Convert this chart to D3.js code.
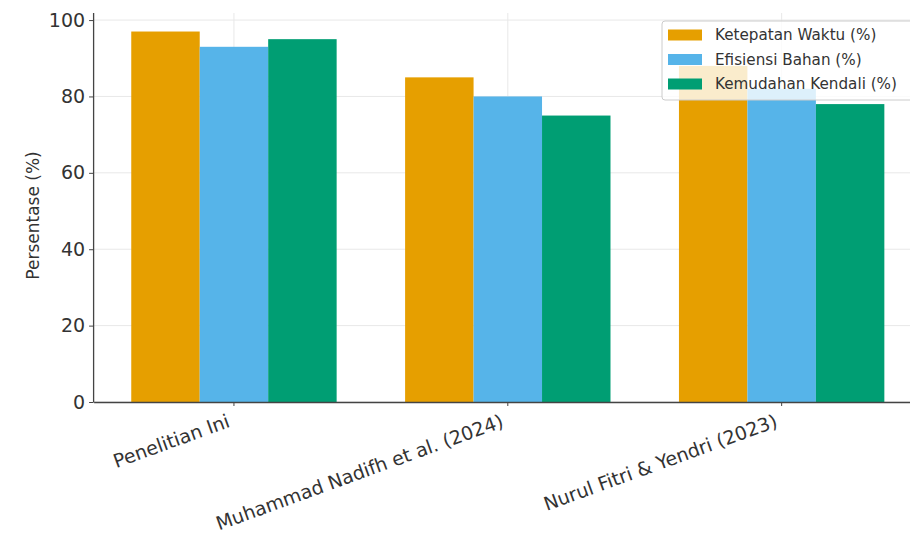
<!DOCTYPE html>
<html>
<head>
<meta charset="utf-8">
<script src="https://cdn.jsdelivr.net/npm/d3@7"></script>
<style>
  html, body { margin: 0; padding: 0; background: #fff; }
  svg { display: block; font-family: "DejaVu Sans", sans-serif; }
</style>
</head>
<body>
<svg id="chart" width="910" height="543"></svg>
<script>
// Studies compared
const categories = ["Penelitian Ini", "Muhammad Nadifh et al. (2024)", "Nurul Fitri & Yendri (2023)"];

// Series names and values (%)
const seriesNames = ["Ketepatan Waktu (%)", "Efisiensi Bahan (%)", "Kemudahan Kendali (%)"];
const ketepatanWaktu = [97, 85, 88];
const efisiensiBahan = [93, 80, 82];
const kemudahanKendali = [95, 75, 78];
const seriesValues = [ketepatanWaktu, efisiensiBahan, kemudahanKendali];

const seriesColors = ["#E69F00", "#56B4E9", "#009E73"];
const yTicks = [0, 20, 40, 60, 80, 100];
const yLabel = "Persentase (%)";

const svg = d3.select("#chart");

// Plot area (right edge runs past the canvas)
const plot = { left: 93.6, right: 922, top: 13, bottom: 402 };

const x0 = d3.scaleBand()
  .domain(categories)
  .range([plot.left, plot.right])
  .paddingInner(0.25)
  .paddingOuter(0.1375);

const x1 = d3.scaleBand()
  .domain(seriesNames)
  .range([0, x0.bandwidth()])
  .padding(0);

const yMax = d3.max(seriesValues.flat()) * 1.05;
const y = d3.scaleLinear().domain([0, yMax]).range([plot.bottom, plot.top]);

// Grid lines
const grid = svg.append("g").attr("stroke", "#e8e8e8").attr("stroke-width", 1);
grid.selectAll("line.h").data(yTicks).join("line")
  .attr("class", "h")
  .attr("x1", plot.left).attr("x2", plot.right)
  .attr("y1", d => y(d)).attr("y2", d => y(d));
grid.selectAll("line.v").data(categories).join("line")
  .attr("class", "v")
  .attr("x1", d => x0(d) + x0.bandwidth() / 2).attr("x2", d => x0(d) + x0.bandwidth() / 2)
  .attr("y1", plot.top).attr("y2", plot.bottom);

// Bars
const rows = categories.map((c, i) => ({
  cat: c,
  vals: seriesNames.map((s, j) => ({ s, j, v: seriesValues[j][i] }))
}));

svg.append("g").selectAll("g").data(rows).join("g")
  .attr("transform", d => `translate(${x0(d.cat)},0)`)
  .selectAll("rect").data(d => d.vals).join("rect")
  .attr("x", d => x1(d.s))
  .attr("width", x1.bandwidth())
  .attr("y", d => y(d.v))
  .attr("height", d => y(0) - y(d.v))
  .attr("fill", d => seriesColors[d.j]);

// Y axis
const yAxis = svg.append("g")
  .attr("transform", `translate(${plot.left},0)`)
  .call(d3.axisLeft(y).tickValues(yTicks).tickSize(4.5).tickPadding(4).tickSizeOuter(0));
yAxis.select(".domain").attr("stroke", "#444").attr("stroke-width", 1.3)
  .attr("d", `M0,${plot.top}V${plot.bottom}`);
yAxis.selectAll(".tick line").attr("stroke", "#444").attr("stroke-width", 1);
yAxis.selectAll(".tick text")
  .attr("fill", "#333")
  .style("font-size", "19px")
  .style("font-family", "DejaVu Sans, sans-serif");

// X axis
const xAxis = svg.append("g")
  .attr("transform", `translate(0,${plot.bottom})`)
  .call(d3.axisBottom(x0).tickSize(4).tickSizeOuter(0));
xAxis.select(".domain").attr("stroke", "#444").attr("stroke-width", 1.3);
xAxis.selectAll(".tick line").attr("stroke", "#444").attr("stroke-width", 1);
xAxis.selectAll(".tick text")
  .attr("fill", "#333")
  .attr("text-anchor", "end")
  .attr("y", 0).attr("dy", 0)
  .attr("transform", "translate(-3,24.5) rotate(-20)")
  .style("font-size", "19px")
  .style("font-family", "DejaVu Sans, sans-serif");

// Y axis label
svg.append("text")
  .attr("transform", `translate(39,${(plot.top + plot.bottom) / 2 + 8}) rotate(-90)`)
  .attr("text-anchor", "middle")
  .attr("fill", "#333")
  .style("font-size", "17px")
  .text(yLabel);

// Legend
const legend = svg.append("g").attr("transform", "translate(662,21)");
legend.append("rect")
  .attr("width", 270).attr("height", 79)
  .attr("rx", 3)
  .attr("fill", "#fff").attr("fill-opacity", 0.8)
  .attr("stroke", "#cccccc").attr("stroke-width", 1);
const items = legend.selectAll("g.item").data(seriesNames).join("g")
  .attr("class", "item")
  .attr("transform", (d, i) => `translate(0,${14 + i * 24.5})`);
items.append("rect")
  .attr("x", 6).attr("y", -5.5)
  .attr("width", 34).attr("height", 11)
  .attr("fill", (d, i) => seriesColors[i]);
items.append("text")
  .attr("x", 53).attr("dy", "0.36em")
  .attr("fill", "#333")
  .style("font-size", "15.2px")
  .text(d => d);
</script>
</body>
</html>
